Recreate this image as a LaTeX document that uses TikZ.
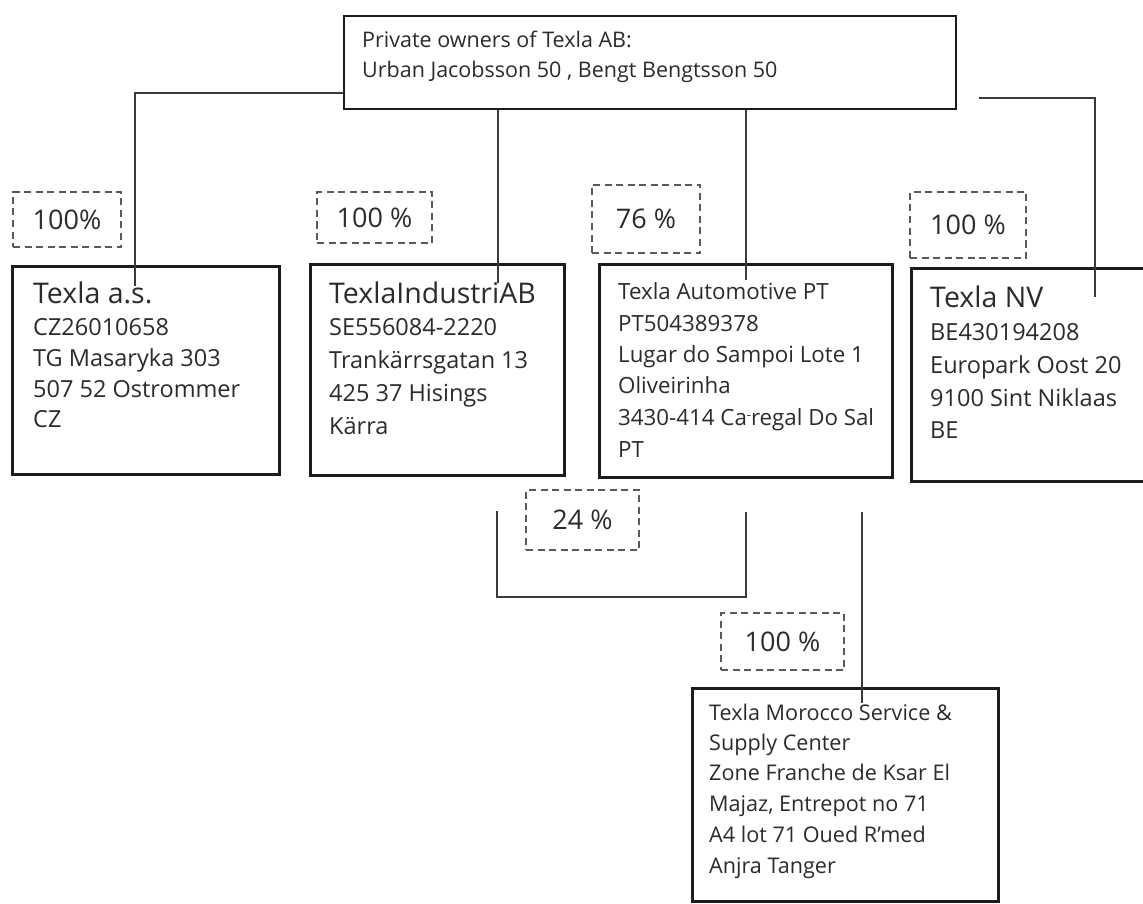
\documentclass[tikz,border=0pt]{standalone}
\usepackage{fontspec}
\setmainfont{Open Sans}
\definecolor{txtc}{HTML}{2B2B2B}
\definecolor{boxc}{HTML}{1C1C1C}
\definecolor{linec}{HTML}{3A3A3A}
\definecolor{dashc}{HTML}{5A5A5A}
\newcommand\fTitle{\fontsize{28.5}{34}\selectfont}
\newcommand\fBody{\fontsize{23.5}{30}\selectfont}
\newcommand\fSmall{\fontsize{22.3}{30}\selectfont}
\newcommand\fMor{\fontsize{21.6}{30}\selectfont}
\newcommand\fTop{\fontsize{21.5}{30}\selectfont}
\newcommand\fPct{\fontsize{27}{32}\selectfont}
\begin{document}
\begin{tikzpicture}[x=1pt,y=-1pt,
  cbox/.style={draw=boxc,line width=3pt,inner sep=0pt,anchor=north west},
  topbox/.style={draw=boxc,line width=2.2pt,inner sep=0pt,anchor=north west},
  pct/.style={draw=dashc,line width=1.4pt,dash pattern=on 7pt off 4.5pt,inner sep=0pt,text=txtc,font=\fPct},
  tx/.style={anchor=base west,inner sep=0pt,text=txtc,font=\fBody},
  conn/.style={draw=linec,line width=1.4pt}]
\useasboundingbox (0,0) rectangle (1143,904);
\fill[white] (0,0) rectangle (1143,904);

% boxes
\node[topbox,minimum width=612pt,minimum height=93pt] (top) at (343,15) {};
\node[cbox,minimum width=267pt,minimum height=208pt] (as) at (11,265) {};
\node[cbox,minimum width=254pt,minimum height=211pt] (ind) at (309,263) {};
\node[cbox,minimum width=293pt,minimum height=213pt] (aut) at (598,263) {};
\node[cbox,minimum width=250pt,minimum height=213pt] (nv) at (910,267) {};
\node[cbox,minimum width=306pt,minimum height=213pt] (mor) at (691,687) {};

% percentage boxes
\node[pct,minimum width=108pt,minimum height=55pt] (p1) at (67,219.5) {100\%};
\node[pct,minimum width=115pt,minimum height=51pt] (p2) at (374.5,217.5) {100 \%};
\node[pct,minimum width=108pt,minimum height=68pt] (p3) at (646,219) {76 \%};
\node[pct,minimum width=116pt,minimum height=66pt] (p4) at (968,225) {100 \%};
\node[pct,minimum width=113pt,minimum height=60pt] (p5) at (582.5,520) {24 \%};
\node[pct,minimum width=123pt,minimum height=57pt] (p6) at (782.5,641.5) {100 \%};

% connectors
\coordinate (k1) at (135,93);
\coordinate (e1) at (135,286);
\draw[conn] (top.west |- k1) -- (k1) -- (e1);
\coordinate (e2) at (498,283);
\draw[conn] (top.south -| e2) -- (e2);
\coordinate (e3) at (746,280);
\draw[conn] (top.south -| e3) -- (e3);
\coordinate (s4) at (979,98);
\coordinate (e4) at (1095,297);
\draw[conn] (s4) -- (s4 -| e4) -- (e4);
\coordinate (b1) at (497,511);
\coordinate (b2) at (746,512);
\coordinate (bb) at (0,597);
\draw[conn] (b1) -- (b1 |- bb) -- (b2 |- bb) -- (b2);
\coordinate (m1) at (862,512);
\coordinate (e5) at (862,703);
\draw[conn] (m1) -- (e5);

% top text
\node[tx,font=\fTop] (t1) at (362,48) {Private owners of Texla AB:};
\node[tx,font=\fTop] (t2) at (362,78) {Urban Jacobsson 50 , Bengt Bengtsson 50};

% Texla a.s.
\node[tx,font=\fTitle] (a1) at (33,303) {Texla a.s.};
\node[tx] (a2) at (33,335) {CZ26010658};
\node[tx] (a3) at (33,366) {TG Masaryka 303};
\node[tx] (a4) at (33,397) {507 52 Ostrommer};
\node[tx] (a5) at (33,427) {CZ};

% TexlaIndustriAB
\node[tx,font=\fTitle] (i1) at (329,303) {TexlaIndustriAB};
\node[tx] (i2) at (329,335) {SE556084-2220};
\node[tx] (i3) at (329,368) {Trankärrsgatan 13};
\node[tx] (i4) at (329,401) {425 37 Hisings};
\node[tx] (i5) at (329,434) {Kärra};

% Texla Automotive PT
\node[tx,font=\fSmall] (u1) at (618,299) {Texla Automotive PT};
\node[tx,font=\fSmall] (u2) at (618,331) {PT504389378};
\node[tx,font=\fSmall] (u3) at (618,362) {Lugar do Sampoi Lote 1};
\node[tx,font=\fSmall] (u4) at (618,393) {Oliveirinha};
\node[tx,font=\fSmall] (u5) at (618,425) {3430-414 Ca\raisebox{0.5ex}{\fontsize{13}{13}\selectfont -}regal Do Sal};
\node[tx,font=\fSmall] (u6) at (618,457) {PT};

% Texla NV
\node[tx,font=\fTitle] (n1) at (930,307) {Texla NV};
\node[tx] (n2) at (930,340) {BE430194208};
\node[tx] (n3) at (930,373) {Europark Oost 20};
\node[tx] (n4) at (930,406) {9100 Sint Niklaas};
\node[tx] (n5) at (930,438) {BE};

% Morocco
\node[tx,font=\fMor] (o1) at (709,720) {Texla Morocco Service \&};
\node[tx,font=\fMor] (o2) at (709,750) {Supply Center};
\node[tx,font=\fMor] (o3) at (709,780) {Zone Franche de Ksar El};
\node[tx,font=\fMor] (o4) at (709,811) {Majaz, Entrepot no 71};
\node[tx,font=\fMor] (o5) at (709,842) {A4 lot 71 Oued R’med};
\node[tx,font=\fMor] (o6) at (709,873) {Anjra Tanger};
\end{tikzpicture}
\end{document}
